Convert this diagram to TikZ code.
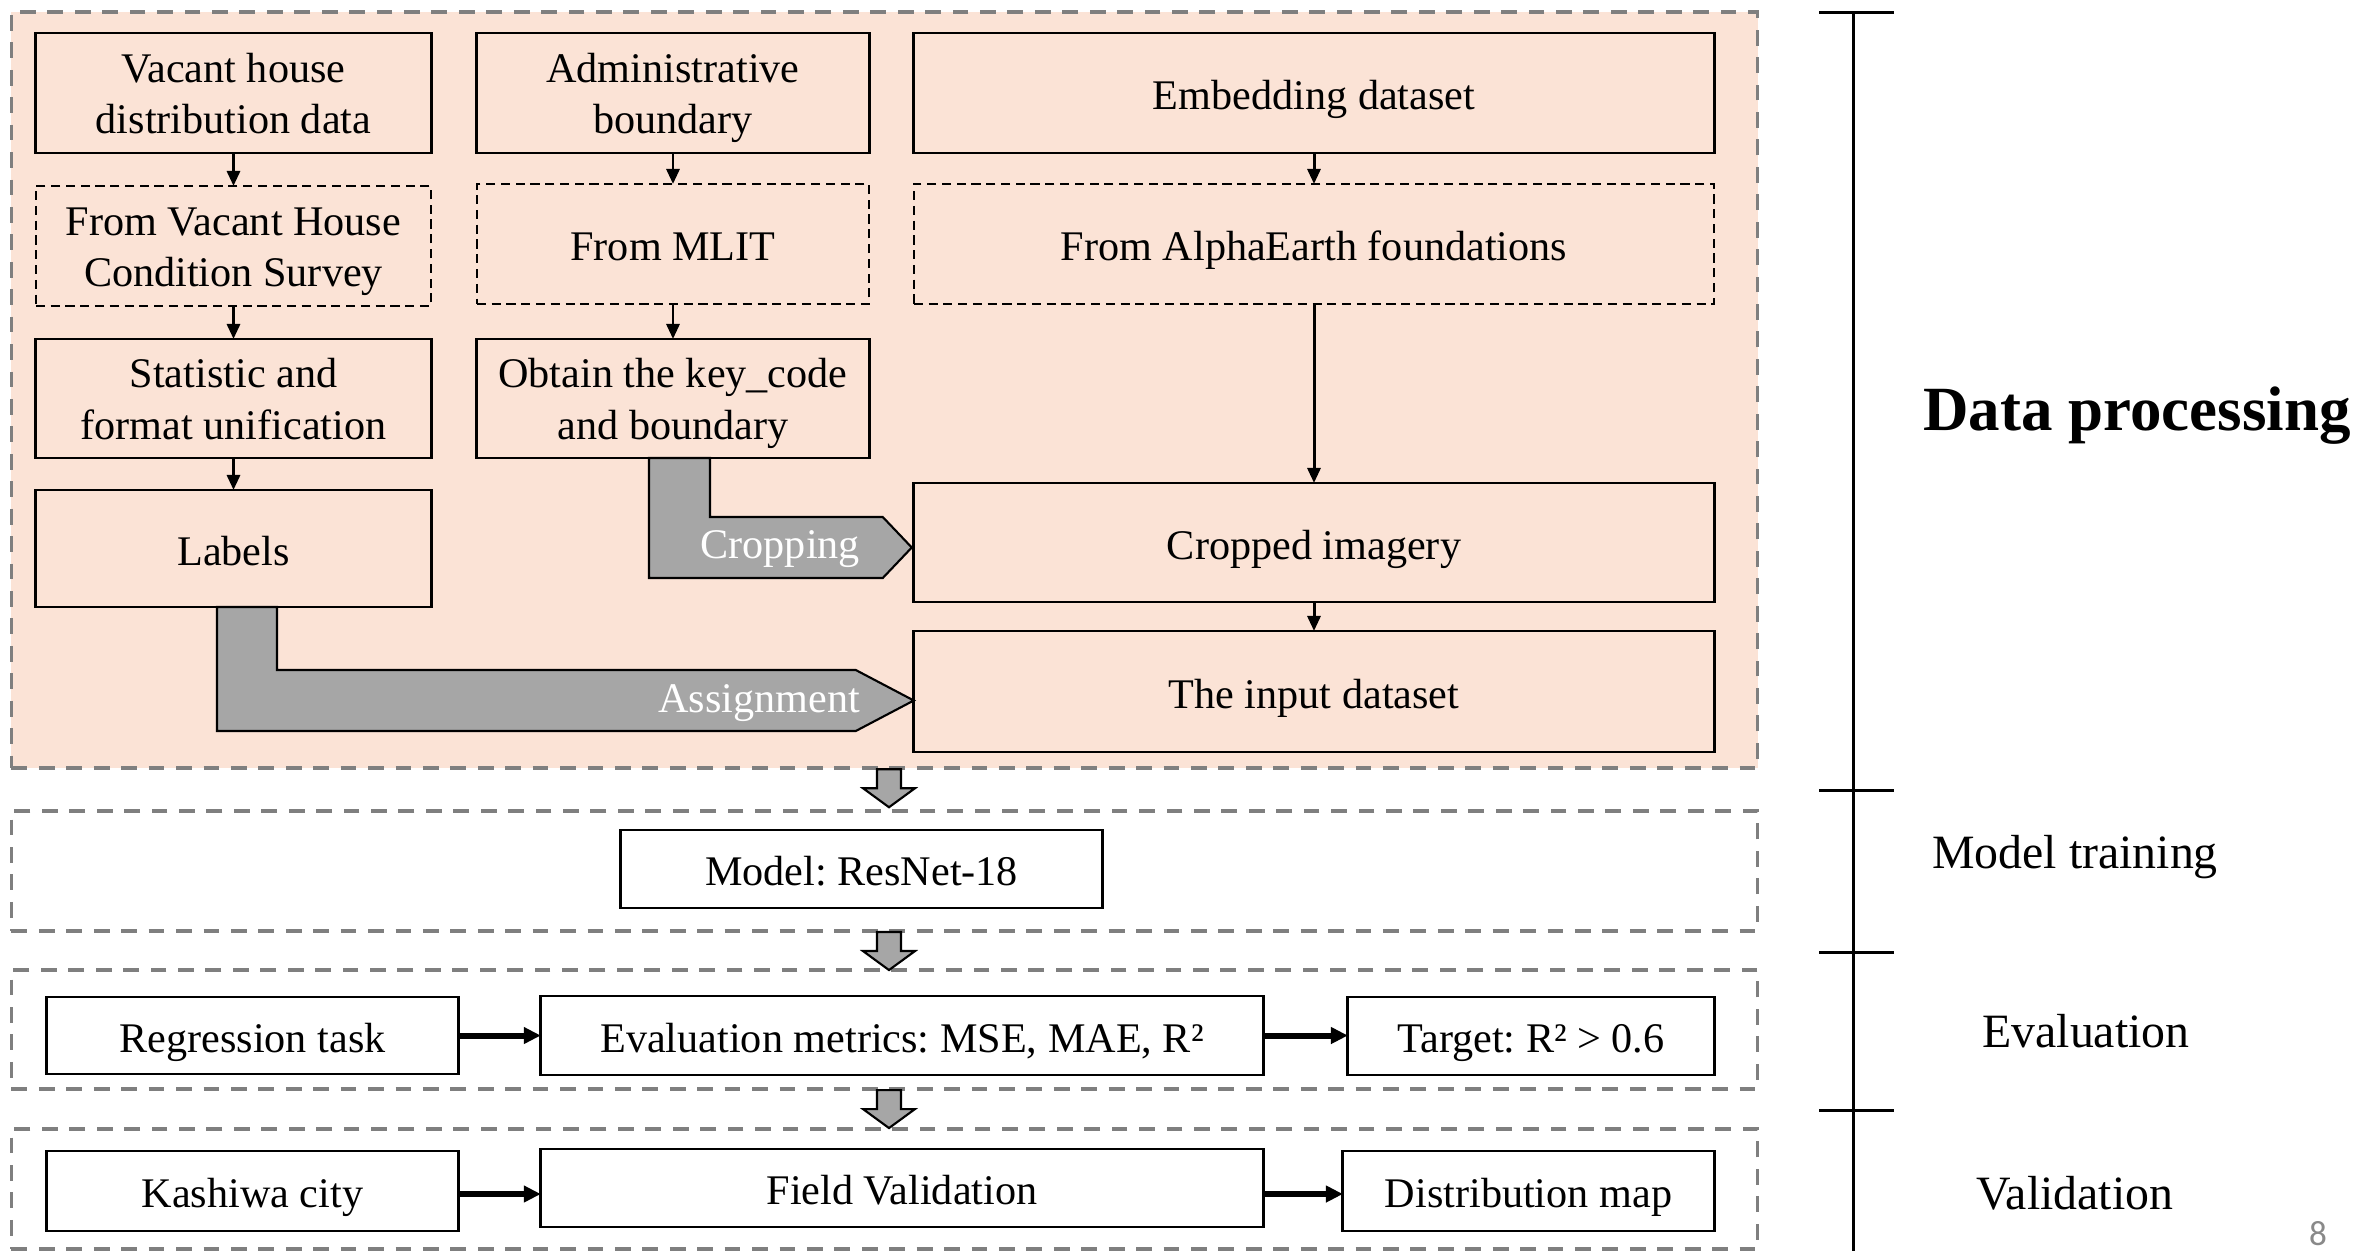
\documentclass[tikz,border=0pt]{standalone}
\usepackage{fontspec}
\setmainfont{Liberation Serif}
\newfontfamily\pagenumfont{Carlito}
\usetikzlibrary{arrows.meta,calc}
\definecolor{peach}{RGB}{251,227,214}
\definecolor{framegray}{RGB}{127,127,127}
\definecolor{blockgray}{RGB}{166,166,166}
\definecolor{pagegray}{RGB}{137,137,137}
% strut with a full line-box ascent and descent, so one-line text sits centred on its line box
\newcommand\linestrut{\rule[-0.216em]{0pt}{1.217em}}
% two centred lines, with the pair centred as a block
\newcommand\twolines[2]{\raisebox{0pt}[\dimexpr\height+2.6pt\relax][\depth]{\begin{tabular}{@{}c@{}}#1\\#2\end{tabular}}}
\frenchspacing

\begin{document}
\begin{tikzpicture}[x=0.01cm,y=-0.01cm,
  every node/.style={inner sep=0pt, outer sep=0pt},
  boxtext/.style={font=\fontsize{12}{14.7}\selectfont, align=center,
    execute at begin node=\linestrut},
  procbox/.style={boxtext, draw=black, line width=0.8pt, fill=peach},
  srcbox/.style={boxtext, draw=black, line width=0.65pt, dash pattern=on 2.6pt off 1.6pt, fill=peach},
  plainbox/.style={boxtext, draw=black, line width=0.8pt, fill=white},
  stagebox/.style={draw=framegray, line width=1.1pt, dash pattern=on 4.5pt off 3.3pt},
  flow/.style={draw=black, line width=0.85pt, -{Triangle[length=0.15cm,width=0.13cm]}},
  thickflow/.style={draw=black, line width=1.7pt, -{Triangle[length=0.17cm,width=0.16cm]}},
  blockarrow/.style={draw=black, line width=0.6pt, fill=blockgray, line join=miter},
  blocklabel/.style={font=\fontsize{12}{14.7}\selectfont, text=white, anchor=base east},
  stagelabel/.style={font=\fontsize{13.6}{16}\selectfont, anchor=base},
  scaleline/.style={draw=black, line width=0.85pt},
  downblock/.pic={\draw[blockarrow] (-12,0) -- (12,0) -- (12,19) -- (26,19) -- (0,38) -- (-26,19) -- (-12,19) -- cycle;}
]
\useasboundingbox (0,0) rectangle (2362,1250);

% stage frames
\node[stagebox, fill=peach, minimum width=17.45cm, minimum height=7.56cm] (dp) at (884.5,390) {};
\node[stagebox, minimum width=17.45cm, minimum height=1.20cm] (mt) at (884.5,871) {};
\node[stagebox, minimum width=17.45cm, minimum height=1.19cm] (ev) at (884.5,1029.5) {};
\node[stagebox, minimum width=17.45cm, minimum height=1.20cm] (va) at (884.5,1189) {};

% data processing: vacant house column
\node[procbox, minimum width=3.95cm, minimum height=1.20cm] (vh) at (233.5,93) {\twolines{Vacant house}{distribution data}};
\node[srcbox, minimum width=3.95cm, minimum height=1.20cm] (vhs) at (233.5,246) {\twolines{From Vacant House}{Condition Survey}};
\node[procbox, minimum width=3.95cm, minimum height=1.19cm] (stat) at (233.5,398.5) {\twolines{Statistic and}{format unification}};
\node[procbox, minimum width=3.95cm, minimum height=1.17cm] (lab) at (233.5,548.5) {Labels};

% data processing: boundary column
\node[procbox, minimum width=3.92cm, minimum height=1.20cm] (adm) at (673,93) {\twolines{Administrative}{boundary}};
\node[srcbox, minimum width=3.92cm, minimum height=1.20cm] (mlit) at (673,244) {From MLIT};
\node[procbox, minimum width=3.92cm, minimum height=1.19cm] (key) at (673,398.5) {\twolines{Obtain the key\_code}{and boundary}};

% data processing: embedding column
\node[procbox, minimum width=8.00cm, minimum height=1.20cm] (emb) at (1314,93) {Embedding dataset};
\node[srcbox, minimum width=8.00cm, minimum height=1.20cm] (alpha) at (1314,244) {From AlphaEarth foundations};
\node[procbox, minimum width=8.00cm, minimum height=1.19cm] (crop) at (1314,542.5) {Cropped imagery};
\node[procbox, minimum width=8.00cm, minimum height=1.21cm] (inp) at (1314,691.5) {The input dataset};

\draw[flow] (vh) -- (vhs);
\draw[flow] (vhs) -- (stat);
\draw[flow] (stat) -- (lab);
\draw[flow] (adm) -- (mlit);
\draw[flow] (mlit) -- (key);
\draw[flow] (emb) -- (alpha);
\draw[flow] (alpha) -- (crop);
\draw[flow] (crop) -- (inp);

% cropping and assignment block arrows
\draw[blockarrow] ($(key.south)+(-24,0)$) -- ++(61,0) -- ++(0,59)
  -- ($(crop.west)+(-31,-25.5)$) -- ($(crop.west)+(-2,5)$) -- ($(crop.west)+(-31,35.5)$)
  -- ($(key.south)+(-24,120)$) -- cycle;
\node[blocklabel] (croplbl) at (860,558) {Cropping};
\draw[blockarrow] ($(lab.south)+(-16.5,0)$) -- ++(60,0) -- ++(0,63)
  -- ($(inp.west)+(-58,-21.5)$) -- ($(inp.west)+(0,9)$) -- ($(inp.west)+(-58,39.5)$)
  -- ($(lab.south)+(-16.5,124)$) -- cycle;
\node[blocklabel] (asglbl) at (860,712) {Assignment};

% model training
\node[plainbox, minimum width=4.81cm, minimum height=0.78cm] (model) at (861.5,869) {Model: ResNet-18};

% evaluation
\node[plainbox, minimum width=4.11cm, minimum height=0.77cm] (reg) at (252.5,1035.5) {Regression task};
\node[plainbox, minimum width=7.22cm, minimum height=0.79cm] (evm) at (902,1035.5) {Evaluation metrics: MSE, MAE, R²};
\node[plainbox, minimum width=3.66cm, minimum height=0.78cm] (tgt) at (1531,1036) {Target: R² > 0.6};
\draw[thickflow] (reg.east) -- (reg.east -| evm.west);
\draw[thickflow] (evm.east) -- (evm.east -| tgt.west);

% validation
\node[plainbox, minimum width=4.11cm, minimum height=0.80cm] (kas) at (252.5,1191) {Kashiwa city};
\node[plainbox, minimum width=7.22cm, minimum height=0.78cm] (fv) at (902,1188) {Field Validation};
\node[plainbox, minimum width=3.71cm, minimum height=0.80cm] (dm) at (1528.5,1191) {Distribution map};
\draw[thickflow] ($(kas.east)+(0,3)$) -- ($(kas.east -| fv.west)+(0,3)$);
\draw[thickflow] ($(fv.east)+(0,6)$) -- ($(fv.east -| dm.west)+(0,6)$);

% arrows between stages
\path ($(dp.south)+(4.5,1)$) pic {downblock};
\path ($(mt.south)+(4.5,1)$) pic {downblock};
\path ($(ev.south)+(4.5,1)$) pic {downblock};

% stage scale on the right
\coordinate (s0) at (1853,12);
\coordinate (s1) at (1853,790);
\coordinate (s2) at (1853,952);
\coordinate (s3) at (1853,1110);
\coordinate (s4) at (1853,1252);
\draw[scaleline] (s0) -- (s4);
\foreach \t in {s0,s1,s2,s3}
  \draw[scaleline] ($(\t)+(-34,0)$) -- ($(\t)+(41,0)$);

\node[font=\fontsize{17.9}{20}\selectfont\bfseries, anchor=base] (lbldp) at (2137,430) {Data processing};
\node[stagelabel] (lblmt) at (2075,868) {Model training};
\node[stagelabel] (lblev) at (2086,1047) {Evaluation};
\node[stagelabel] (lblva) at (2075,1209) {Validation};

\node[font=\pagenumfont\fontsize{10}{12}\selectfont, text=pagegray, anchor=base] (pg) at (2318,1245) {8};
\end{tikzpicture}
\end{document}
